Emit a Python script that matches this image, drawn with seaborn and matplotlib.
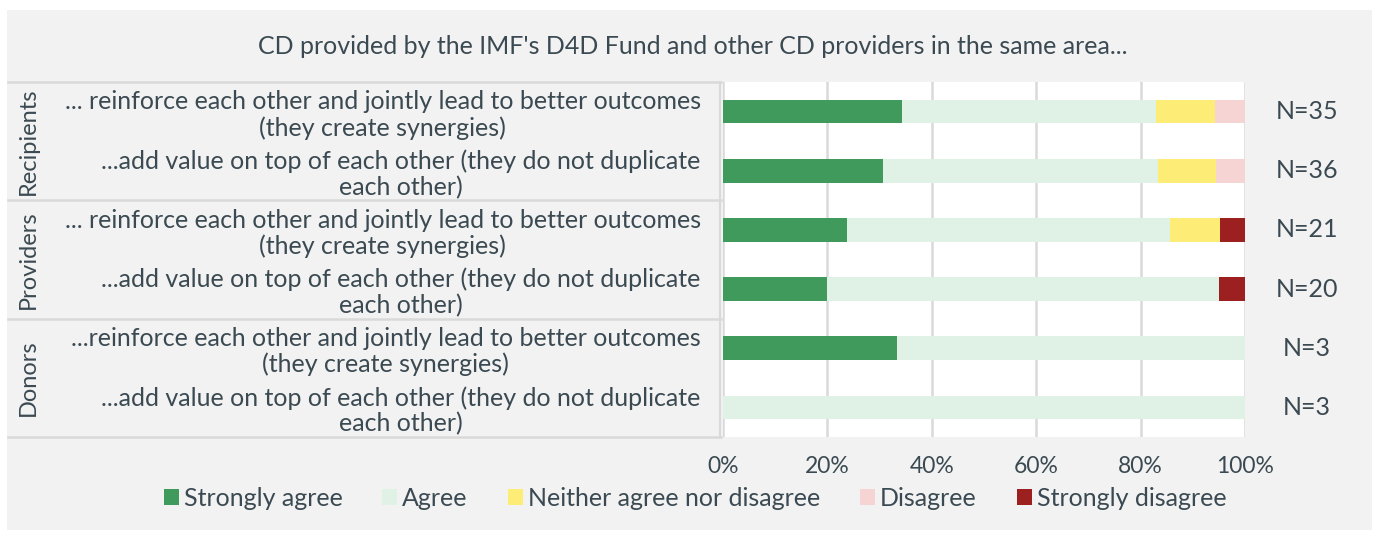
import matplotlib
matplotlib.use("Agg")
import matplotlib.pyplot as plt
from matplotlib.patches import Rectangle, Patch
from matplotlib.lines import Line2D
import seaborn as sns
import pandas as pd

# ---------------- data ----------------
title = "CD provided by the IMF's D4D Fund and other CD providers in the same area..."
groups = ["Recipients", "Providers", "Donors"]
row_labels = [
    "... reinforce each other and jointly lead to better outcomes\n(they create synergies)",
    "...add value on top of each other (they do not duplicate\neach other)",
    "... reinforce each other and jointly lead to better outcomes\n(they create synergies)",
    "...add value on top of each other (they do not duplicate\neach other)",
    "...reinforce each other and jointly lead to better outcomes\n(they create synergies)",
    "...add value on top of each other (they do not duplicate\neach other)",
]
row_group = ["Recipients", "Recipients", "Providers", "Providers", "Donors", "Donors"]
n_labels = ["N=35", "N=36", "N=21", "N=20", "N=3", "N=3"]
categories = ["Strongly agree", "Agree", "Neither agree nor disagree", "Disagree", "Strongly disagree"]
strongly_agree = [34.3, 30.6, 23.8, 20.0, 33.3, 0.0]
agree = [48.6, 52.8, 61.9, 75.0, 66.7, 100.0]
neither = [11.4, 11.1, 9.5, 0.0, 0.0, 0.0]
disagree = [5.7, 5.6, 0.0, 0.0, 0.0, 0.0]
strongly_disagree = [0.0, 0.0, 4.8, 5.0, 0.0, 0.0]
colors = ["#3f9a5b", "#e0f1e6", "#fded77", "#f6d4d4", "#9d2020"]
xticks = [0, 20, 40, 60, 80, 100]
xticklabels = ["0%", "20%", "40%", "60%", "80%", "100%"]

# ---------------- build table ----------------
row_ids = [f"r{i}" for i in range(len(row_labels))]
series = [strongly_agree, agree, neither, disagree, strongly_disagree]
records = []
for i, rid in enumerate(row_ids):
    cum = 0.0
    for cat, vals in zip(categories, series):
        cum += vals[i]
        records.append({"row": rid, "category": cat, "cum": min(cum, 100.0)})
df = pd.DataFrame(records)

# ---------------- figure ----------------
W, H = 1378, 534
fig = plt.figure(figsize=(W / 100, H / 100), dpi=100, facecolor="white")
fig.patches.append(Rectangle((7 / W, 4 / H), (1372 - 7) / W, (524 - 4) / H,
                             transform=fig.transFigure, facecolor="#f2f2f2",
                             edgecolor="none", zorder=-10))
txt_color = "#3b4a52"
FONT = ["Lato", "DejaVu Sans"]
plt.rcParams["font.family"] = FONT
FS = 18

left_px, right_px, top_px, bot_px = 723, 1245, 82, 437
ax = fig.add_axes([left_px / W, 1 - bot_px / H, (right_px - left_px) / W, (bot_px - top_px) / H])
ax.set_facecolor("white")

for cat, col in reversed(list(zip(categories, colors))):
    sub = df[df["category"] == cat]
    sns.barplot(data=sub, x="cum", y="row", order=row_ids, color=col, saturation=1,
                orient="h", width=0.4, ax=ax, edgecolor="none", linewidth=0, zorder=3)

ax.set_xlim(0, 100)
ax.set_ylim(len(row_ids) - 0.5, -0.5)
ax.set_xticks(xticks)
ax.set_xticklabels(xticklabels, fontsize=16.5, color=txt_color)
ax.tick_params(axis="x", length=0, pad=14)
ax.set_yticks(range(len(row_ids)))
ax.set_yticklabels(row_labels, fontsize=FS, color=txt_color, multialignment="center",
                   linespacing=1.15)
ax.tick_params(axis="y", length=0, pad=16)
ax.set_xlabel("")
ax.set_ylabel("")
for x in xticks:
    ax.axvline(x, color="#d9d9d9", lw=1.8, zorder=1)
for s in ax.spines.values():
    s.set_visible(False)

# row count labels
for i, lab in enumerate(n_labels):
    ax.text(111.8, i, lab, ha="center", va="center", fontsize=FS, color=txt_color, clip_on=False)

# group separators and group labels
x_left_fig = 8 / W
for b in [-0.5, 1.5, 3.5, 5.5]:
    y_fig = fig.transFigure.inverted().transform(ax.transData.transform((0, b)))[1]
    fig.add_artist(Line2D([x_left_fig, (left_px - 2) / W], [y_fig, y_fig], color="#d9d9d9", lw=1.8))
fig.add_artist(Line2D([(left_px - 3) / W] * 2, [1 - top_px / H, 1 - bot_px / H], color="#d9d9d9", lw=1.5))
for g in groups:
    idx = [i for i, rg in enumerate(row_group) if rg == g]
    yc = (idx[0] + idx[-1]) / 2
    y_fig = fig.transFigure.inverted().transform(ax.transData.transform((0, yc)))[1]
    fig.text(28 / W, y_fig, g, rotation=90, ha="center", va="center", fontsize=17, color=txt_color)

# title
fig.text(693 / W, 1 - 47 / H, title, ha="center", va="center", fontsize=FS, color=txt_color)

# legend
handles = [Patch(facecolor=c, edgecolor="none", label=l) for c, l in zip(colors, categories)]
fig.legend(handles=handles, loc="center", bbox_to_anchor=(695 / W, 1 - 498 / H), ncol=5,
           frameon=False, fontsize=FS, labelcolor=txt_color, handlelength=0.6, handleheight=0.6,
           handletextpad=0.2, columnspacing=1.6)

fig.savefig("out.png", dpi=100, facecolor=fig.get_facecolor())
